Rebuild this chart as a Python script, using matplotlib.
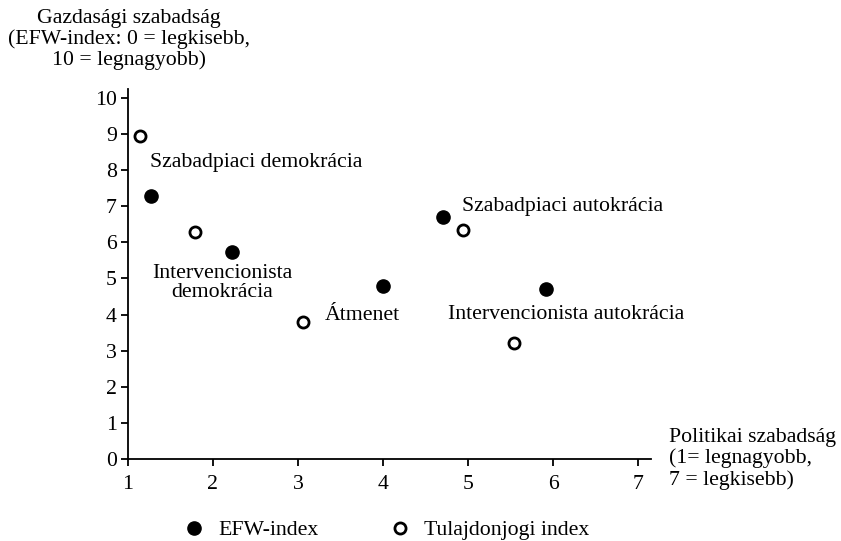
import matplotlib
matplotlib.use('Agg')
import matplotlib.pyplot as plt
from matplotlib.lines import Line2D

plt.rcParams['font.family'] = ['Liberation Serif', 'DejaVu Serif']

# political freedom (x) and economic freedom (y)
efw_x = [1.27, 2.22, 4.00, 4.71, 5.92]
efw_y = [7.29, 5.72, 4.78, 6.71, 4.71]
prop_x = [1.14, 1.79, 3.06, 4.94, 5.54]
prop_y = [8.95, 6.29, 3.79, 6.34, 3.21]

labels = ['Szabadpiaci demokrácia', 'Intervencionista\ndemokrácia', 'Átmenet',
          'Szabadpiaci autokrácia', 'Intervencionista autokrácia']
label_x = [1.26, 2.11, 3.32, 4.93, 4.76]
label_y = [8.2, 4.87, 3.97, 6.98, 3.99]
label_ha = ['left', 'center', 'left', 'left', 'left']

fs = 15.7

fig = plt.figure(figsize=(8.41, 5.41), dpi=100)
ax = fig.add_axes([0.152, 0.1516, 0.622, 0.684])

ax.plot(efw_x, efw_y, 'o', color='black', markersize=9.5, clip_on=False)
ax.plot(prop_x, prop_y, 'o', markerfacecolor='white', markeredgecolor='black',
        markeredgewidth=2, markersize=8, clip_on=False)

for t, x, y, ha in zip(labels, label_x, label_y, label_ha):
    ax.text(x, y, t, ha=ha, va='center', fontsize=fs, linespacing=1.0)

ax.set_xlim(1, 7.15)
ax.set_ylim(0, 10.25)
ax.set_xticks(range(1, 8))
ax.set_yticks(range(0, 11))
for s in ['top', 'right']:
    ax.spines[s].set_visible(False)
for s in ['left', 'bottom']:
    ax.spines[s].set_linewidth(1.3)
ax.tick_params(direction='out', length=5, width=1.3, labelsize=fs)
ax.tick_params(axis='x', pad=6.5)
ax.tick_params(axis='y', pad=3)

fig.text(0.153, 0.983, 'Gazdasági szabadság\n(EFW-index: 0 = legkisebb,\n10 = legnagyobb)',
         ha='center', va='top', fontsize=fs, linespacing=1.08)
fig.text(0.795, 0.1516, 'Politikai szabadság\n(1= legnagyobb,\n7 = legkisebb)',
         ha='left', va='center', fontsize=fs, linespacing=1.1)

handles = [
    Line2D([], [], marker='o', linestyle='none', color='black', markersize=9.5),
    Line2D([], [], marker='o', linestyle='none', markerfacecolor='white',
           markeredgecolor='black', markeredgewidth=2, markersize=8),
]
fig.legend(handles, ['EFW-index', 'Tulajdonjogi index'], loc='center',
           bbox_to_anchor=(0.459, 0.0203), ncol=2, frameon=False, fontsize=fs,
           handletextpad=0.6, columnspacing=3.25, handlelength=1.0)

fig.savefig('out.png', dpi=100)
